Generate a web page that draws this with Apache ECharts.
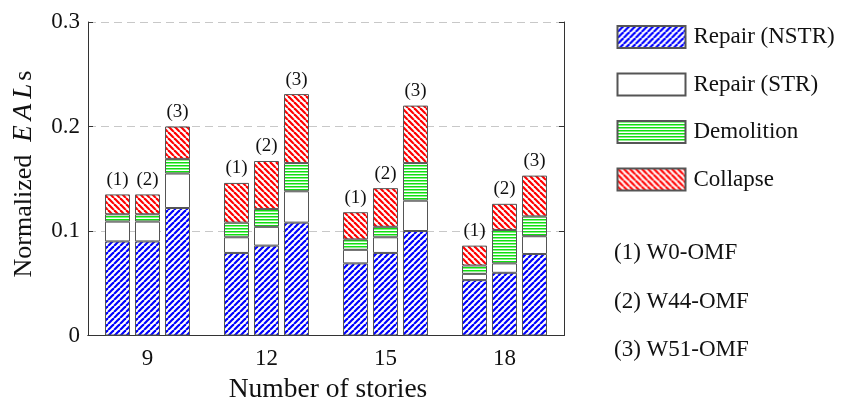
<!DOCTYPE html>
<html>
<head>
<meta charset="utf-8">
<script src="https://cdn.jsdelivr.net/npm/echarts@6/dist/echarts.min.js"></script>
<style>html,body{margin:0;padding:0;background:#fff}#c{width:845px;height:401px}</style>
</head>
<body>
<div id="c"></div>
<script>
// ---- data ----
const stories = ['9', '12', '15', '18'];
const schemeTags = ['(1)', '(2)', '(3)'];
const schemeNames = ['(1) W0-OMF', '(2) W44-OMF', '(3) W51-OMF'];
const components = ['Repair (NSTR)', 'Repair (STR)', 'Demolition', 'Collapse'];
// scheme (1) W0-OMF
const nstrW0 = [0.090, 0.079, 0.069, 0.053];
const strW0  = [0.019, 0.015, 0.013, 0.006];
const demW0  = [0.007, 0.014, 0.010, 0.008];
const colW0  = [0.019, 0.038, 0.026, 0.019];
// scheme (2) W44-OMF
const nstrW44 = [0.090, 0.086, 0.079, 0.060];
const strW44  = [0.019, 0.018, 0.015, 0.009];
const demW44  = [0.007, 0.017, 0.010, 0.032];
const colW44  = [0.019, 0.046, 0.037, 0.025];
// scheme (3) W51-OMF
const nstrW51 = [0.122, 0.108, 0.100, 0.078];
const strW51  = [0.033, 0.030, 0.029, 0.017];
const demW51  = [0.014, 0.027, 0.036, 0.019];
const colW51  = [0.031, 0.066, 0.055, 0.039];
const yTicks = [0, 0.1, 0.2, 0.3];

const schemeData = [
  [nstrW0, strW0, demW0, colW0],
  [nstrW44, strW44, demW44, colW44],
  [nstrW51, strW51, demW51, colW51]
];

// ---- hatch patterns ----
function diag(color, dir) {
  const s = 6;
  const c = document.createElement('canvas');
  c.width = s; c.height = s;
  const g = c.getContext('2d');
  g.fillStyle = '#fff'; g.fillRect(0, 0, s, s);
  g.strokeStyle = color; g.lineWidth = 2.2;
  for (const o of [-s, 0, s]) {
    g.beginPath();
    if (dir === '/') { g.moveTo(o, s); g.lineTo(o + s, 0); }
    else { g.moveTo(o, 0); g.lineTo(o + s, s); }
    g.stroke();
  }
  return { image: c, repeat: 'repeat' };
}
function horiz(color) {
  const c = document.createElement('canvas');
  c.width = 4; c.height = 3;
  const g = c.getContext('2d');
  g.fillStyle = '#fff'; g.fillRect(0, 0, 4, 3);
  g.fillStyle = color; g.fillRect(0, 0, 4, 1.5);
  return { image: c, repeat: 'repeat' };
}
const fills = [diag('#0000ff', '/'), '#ffffff', horiz('#10e010'), diag('#ff0000', '\\')];

const FONT = "'Liberation Serif', 'Times New Roman', 'DejaVu Serif', serif";
const series = [];
schemeData.forEach((comps, k) => {
  comps.forEach((vals, j) => {
    const s = {
      name: components[j],
      type: 'bar',
      stack: 'scheme' + k,
      barWidth: 25,
      barGap: '20%',
      data: vals,
      itemStyle: { color: fills[j], borderColor: '#555', borderWidth: 1 },
      emphasis: { disabled: true }
    };
    if (j === 3) {
      s.label = {
        show: true, position: 'top', distance: 5,
        formatter: () => schemeTags[k],
        fontFamily: FONT, fontSize: 19, color: '#111'
      };
    }
    series.push(s);
  });
});

const chart = echarts.init(document.getElementById('c'), null, { renderer: 'canvas' });
chart.setOption({
  animation: false,
  backgroundColor: '#fff',
  grid: { left: 88, right: 281, top: 22, bottom: 65.5 },
  legend: {
    orient: 'vertical', left: 616.5, top: 25, padding: 0,
    itemWidth: 68, itemHeight: 22, itemGap: 23.5,
    icon: 'rect',
    data: components,
    textStyle: { fontFamily: FONT, fontSize: 23, color: '#111', padding: [0, 0, 0, 3] },
    selectedMode: false
  },
  xAxis: [
    {
      type: 'category', data: stories, position: 'bottom',
      axisLine: { lineStyle: { color: '#333', width: 1 } },
      axisTick: { inside: true, alignWithLabel: true, length: 5, lineStyle: { color: '#333' } },
      axisLabel: { fontFamily: FONT, fontSize: 23, color: '#111', margin: 12 }
    },
    {
      type: 'category', data: stories, position: 'top',
      axisLine: { lineStyle: { color: '#333', width: 1 } },
      axisTick: { inside: true, alignWithLabel: true, length: 5, lineStyle: { color: '#333' } },
      axisLabel: { show: false }
    }
  ],
  yAxis: [
    {
      type: 'value', min: 0, max: 0.3, interval: 0.1, position: 'left',
      axisLine: { show: true, lineStyle: { color: '#333', width: 1 } },
      axisTick: { show: true, inside: true, length: 5, lineStyle: { color: '#333' } },
      axisLabel: { fontFamily: FONT, fontSize: 23, color: '#111', margin: 8,
        formatter: v => { const t = yTicks.find(x => Math.abs(x - v) < 1e-9); return String(t); } },
      splitLine: { show: true, lineStyle: { color: '#c8c8c8', width: 1.2, type: [8, 5] } }
    },
    {
      type: 'value', min: 0, max: 0.3, interval: 0.1, position: 'right',
      axisLine: { show: true, lineStyle: { color: '#333', width: 1 } },
      axisTick: { show: true, inside: true, length: 5, lineStyle: { color: '#333' } },
      axisLabel: { show: false },
      splitLine: { show: false }
    }
  ],
  series: series,
  graphic: [
    {
      type: 'text', x: 24, y: 174, rotation: Math.PI / 2,
      style: {
        text: '{n|Normalized  }{i|E}{i|A}{j|L}{n|s}',
        align: 'center', verticalAlign: 'middle',
        rich: {
          n: { fontFamily: FONT, fontSize: 26, fill: '#111' },
          i: { fontFamily: FONT, fontSize: 27, fontStyle: 'italic', fill: '#111', padding: [0, 5, 0, 0] },
          j: { fontFamily: FONT, fontSize: 27, fontStyle: 'italic', fill: '#111', padding: [0, 3, 0, 0] }
        }
      }
    },
    {
      type: 'text', x: 328, y: 390,
      style: { text: 'Number of stories', fontFamily: FONT, fontSize: 27.5, fill: '#111',
        align: 'center', verticalAlign: 'middle' }
    }
  ].concat(schemeNames.map((t, i) => ({
    type: 'text', x: 614, y: [253, 302, 350][i],
    style: { text: t, fontFamily: FONT, fontSize: 23, fill: '#111', align: 'left', verticalAlign: 'middle' }
  })))
});
</script>
</body>
</html>
